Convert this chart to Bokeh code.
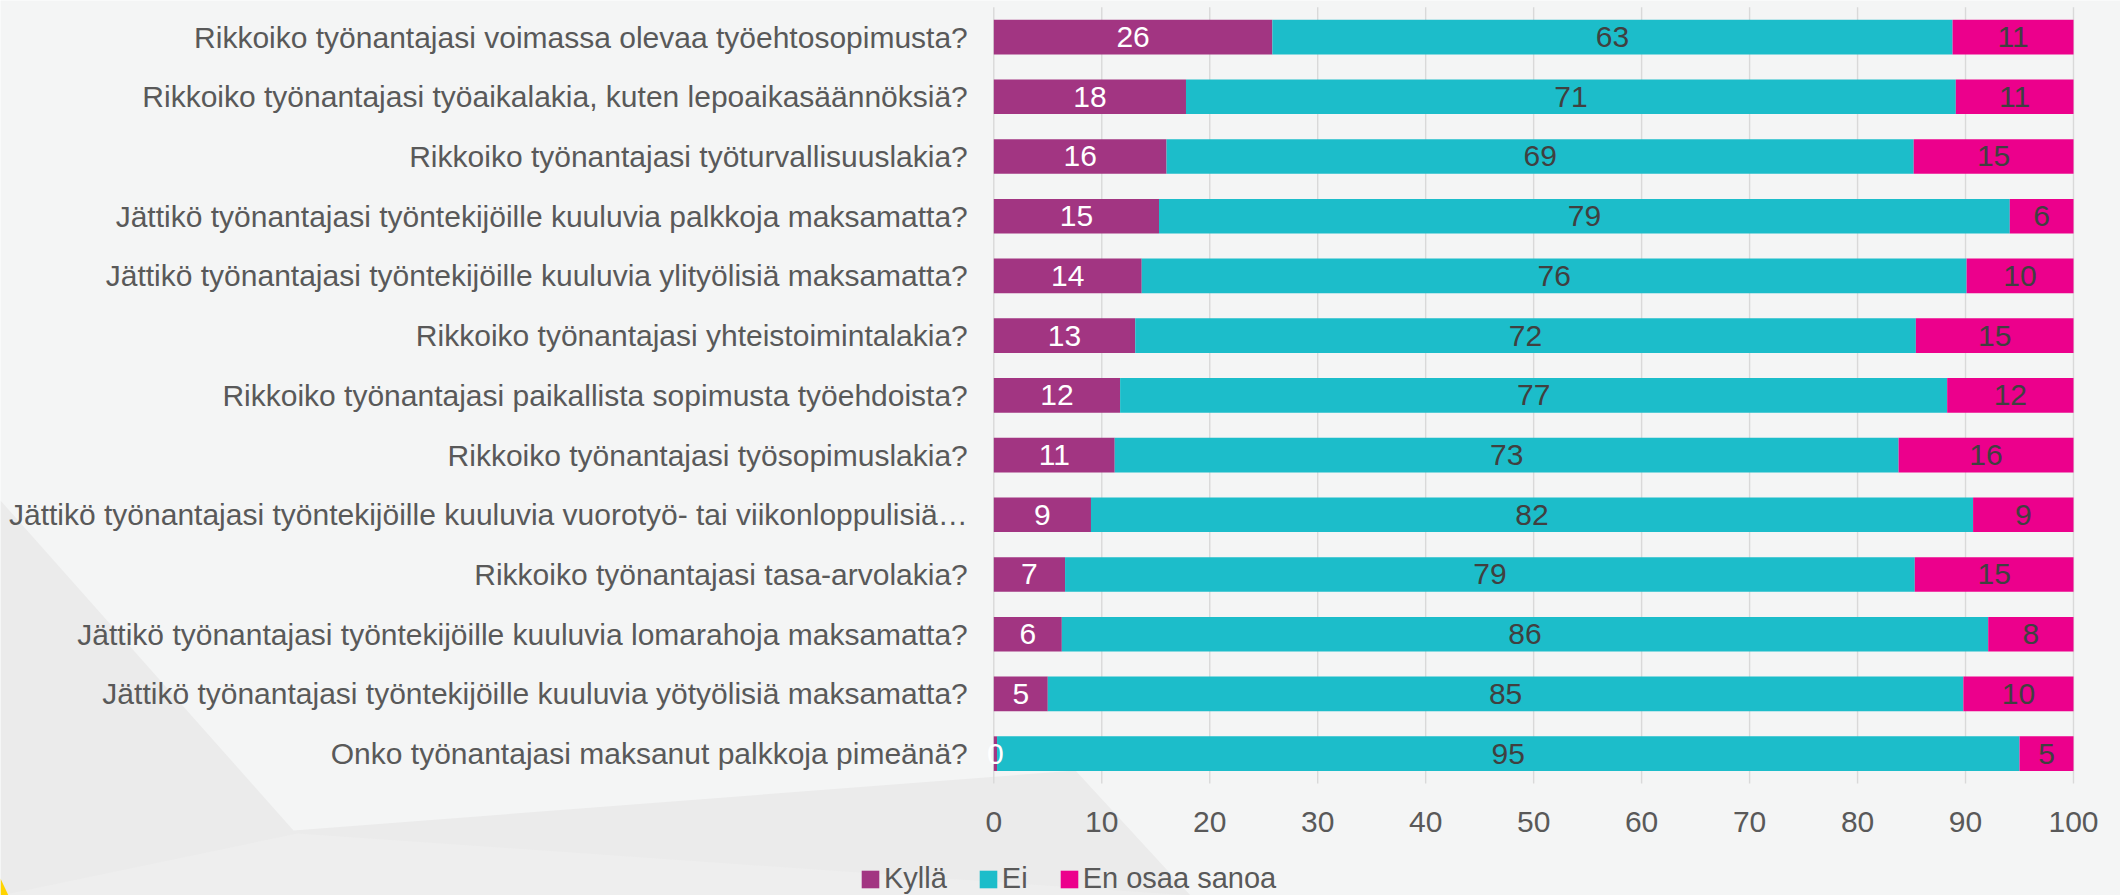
from bokeh.plotting import figure
from bokeh.models import ColumnDataSource, Range1d, Legend, LegendItem
from bokeh.core.properties import value
from bokeh.embed import file_html
from bokeh.resources import INLINE

# ---------------- data ----------------
categories = [
    "Rikkoiko työnantajasi voimassa olevaa työehtosopimusta?",
    "Rikkoiko työnantajasi työaikalakia, kuten lepoaikasäännöksiä?",
    "Rikkoiko työnantajasi työturvallisuuslakia?",
    "Jättikö työnantajasi työntekijöille kuuluvia palkkoja maksamatta?",
    "Jättikö työnantajasi työntekijöille kuuluvia ylityölisiä maksamatta?",
    "Rikkoiko työnantajasi yhteistoimintalakia?",
    "Rikkoiko työnantajasi paikallista sopimusta työehdoista?",
    "Rikkoiko työnantajasi työsopimuslakia?",
    "Jättikö työnantajasi työntekijöille kuuluvia vuorotyö- tai viikonloppulisiä…",
    "Rikkoiko työnantajasi tasa-arvolakia?",
    "Jättikö työnantajasi työntekijöille kuuluvia lomarahoja maksamatta?",
    "Jättikö työnantajasi työntekijöille kuuluvia yötyölisiä maksamatta?",
    "Onko työnantajasi maksanut palkkoja pimeänä?",
]
kylla = [25.8, 17.8, 16.0, 15.3, 13.7, 13.1, 11.7, 11.2, 9.0, 6.6, 6.3, 5.0, 0.3]
ei = [63.0, 71.3, 69.2, 78.8, 76.4, 72.3, 76.6, 72.6, 81.7, 78.7, 85.8, 84.8, 94.7]
eos = [11.2, 10.9, 14.8, 5.9, 9.9, 14.6, 11.7, 16.2, 9.3, 14.7, 7.9, 10.2, 5.0]
series_names = ["Kyllä", "Ei", "En osaa sanoa"]
x_ticks = [0, 10, 20, 30, 40, 50, 60, 70, 80, 90, 100]

# ---------------- style / geometry (pixels) ----------------
FONT = "Liberation Sans"
C_KYLLA = "#A23582"
C_EI = "#1CBDCA"
C_EOS = "#EC008C"
TXT = "#595959"
W, H = 2120, 895
PLOT_L, PLOT_R = 993.3, 2073.0     # pixel position of value 0 and 100
PLOT_T, PLOT_B = 6.7, 783.0        # top / bottom of the category bands
n = len(categories)
px_x = (PLOT_R - PLOT_L) / 100.0
band = (PLOT_B - PLOT_T) / n


def dx(px):
    return (px - PLOT_L) / px_x


def dy(py):
    return n + PLOT_T / band - py / band


ypos = [n - 0.5 - i for i in range(n)]
e1 = [a + b for a, b in zip(kylla, ei)]
tot = [a + b for a, b in zip(e1, eos)]
src = ColumnDataSource(dict(
    cat=categories, y=ypos,
    k0=[0] * n, k1=kylla,
    e0=kylla, e1=e1,
    s0=e1, s1=tot,
    kx=[v / 2 for v in kylla],
    ex=[a + b / 2 for a, b in zip(kylla, ei)],
    sx=[a + b / 2 for a, b in zip(e1, eos)],
    kl=[str(int(v + 0.5)) for v in kylla],
    el=[str(int(v + 0.5)) for v in ei],
    sl=[str(int(v + 0.5)) for v in eos],
))

p = figure(width=W, height=H, output_backend="svg", toolbar_location=None,
           x_range=Range1d(dx(0), dx(W)), y_range=Range1d(dy(H), dy(0)),
           min_border=0, min_border_left=0, min_border_right=0,
           min_border_top=0, min_border_bottom=0)
p.axis.visible = False
p.grid.visible = False
p.outline_line_color = None
p.background_fill_color = "#f4f5f5"
p.border_fill_color = "#f4f5f5"

# decorative slide background (pixel outlines)
bg = [
    ([0, 293, 1075, 1190, 0], [500, 830, 770, 895, 895], "#ebebeb"),
    ([0, 297, 1190, 0], [895, 833, 895, 895], "#eeeeee"),
    ([0, 8, 0], [878, 895, 895], "#ffd400"),
]
for xs, ys, col in bg:
    p.patch(x=[dx(v) for v in xs], y=[dy(v) for v in ys], fill_color=col, line_color=None)

# vertical grid lines (the 0 line doubles as the category axis line)
p.segment(x0=x_ticks, x1=x_ticks, y0=[0] * len(x_ticks), y1=[n] * len(x_ticks),
          line_color="#d9d9d9", line_width=1.4)

bh = 0.58
rk = p.hbar(y="y", left="k0", right="k1", height=bh, source=src, fill_color=C_KYLLA, line_color=None)
re = p.hbar(y="y", left="e0", right="e1", height=bh, source=src, fill_color=C_EI, line_color=None)
rs = p.hbar(y="y", left="s0", right="s1", height=bh, source=src, fill_color=C_EOS, line_color=None)

for xcol, tcol, col in [("kx", "kl", "#ffffff"), ("ex", "el", "#404040"), ("sx", "sl", "#404040")]:
    p.text(x=xcol, y="y", text=tcol, source=src, text_align="center", text_baseline="middle",
           text_font=value(FONT), text_font_size="30px", text_color=col)

# category labels
p.text(x=[dx(PLOT_L - 26)] * n, y=ypos, text=categories, text_align="right",
       text_baseline="middle", text_font=value(FONT), text_font_size="30px", text_color=TXT)

# value-axis tick labels
p.text(x=x_ticks, y=[dy(821)] * len(x_ticks), text=[str(t) for t in x_ticks],
       text_align="center", text_baseline="middle",
       text_font=value(FONT), text_font_size="30px", text_color=TXT)

legend = Legend(items=[LegendItem(label=nm, renderers=[r]) for nm, r in zip(series_names, [rk, re, rs])],
                orientation="horizontal", location=(859, 0),
                padding=0, margin=0, spacing=30, label_standoff=3,
                glyph_width=22, glyph_height=22,
                border_line_color=None, background_fill_alpha=0,
                label_text_font=FONT, label_text_font_size="29px", label_text_color=TXT)
p.add_layout(legend, "center")

open("out.html", "w").write(file_html(p, INLINE))
